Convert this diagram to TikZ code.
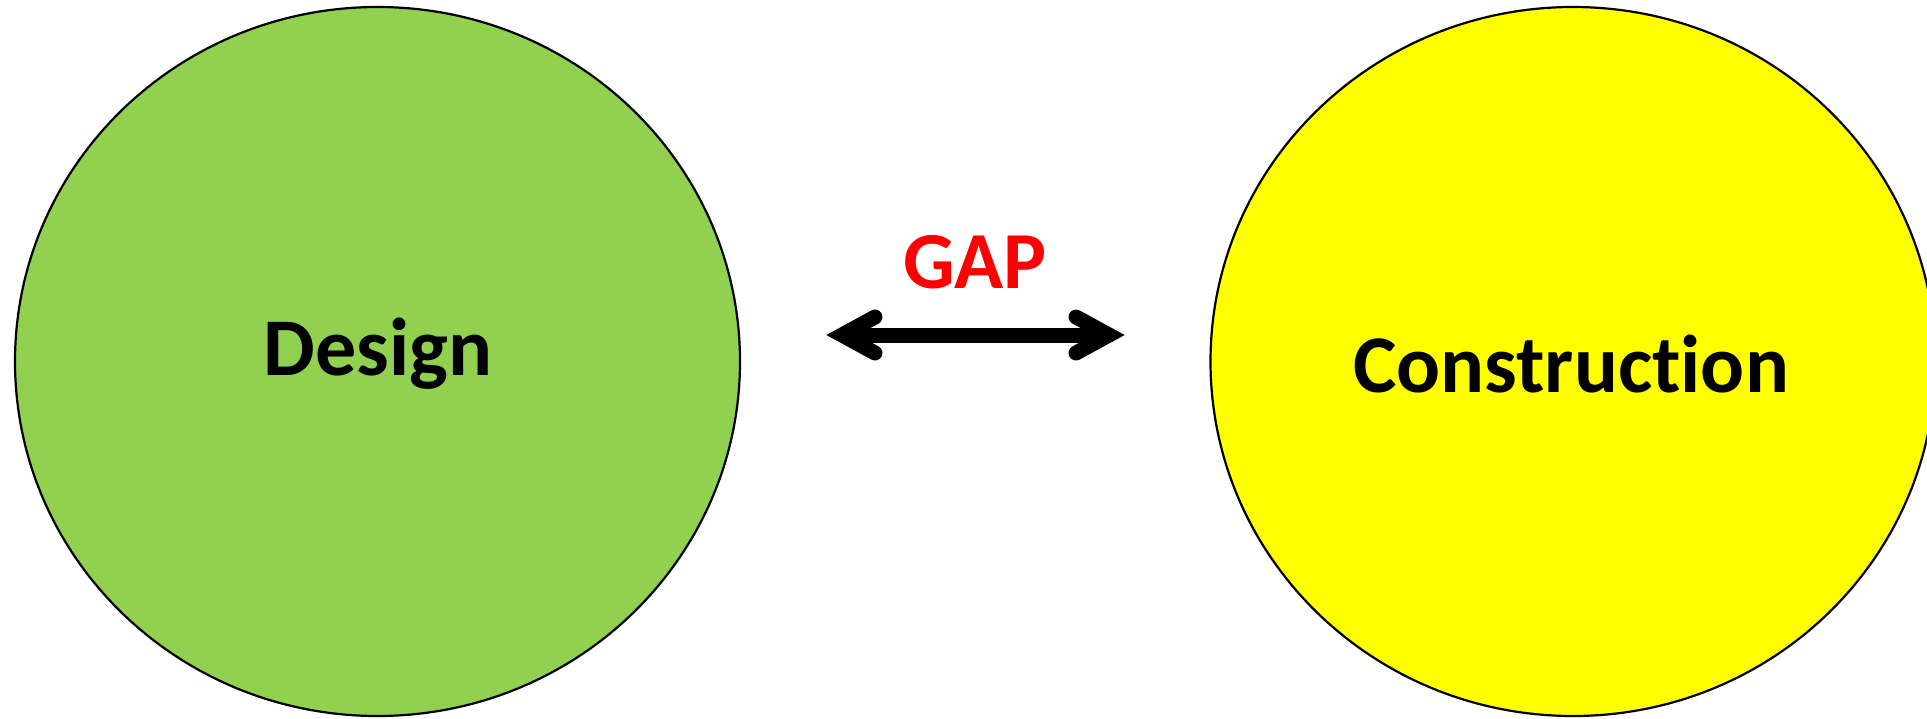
\documentclass[tikz,border=0pt]{standalone}
\usepackage{fontspec}
\setmainfont{Carlito}[Ligatures={NoCommon}]
\usetikzlibrary{shapes.geometric}
\definecolor{dgreen}{HTML}{92D050}
\definecolor{cyellow}{HTML}{FFFF00}
\definecolor{gapred}{HTML}{FF0000}
\tikzset{
  blob/.style={ellipse, draw=black, line width=2.2pt, minimum width=725pt, minimum height=709pt, inner sep=0pt},
  bigtext/.style={font=\fontsize{82}{98}\selectfont\bfseries, anchor=base, inner sep=0pt},
  gapline/.style={line width=15pt, black},
  gaphead/.style={line width=15pt, black, line cap=round, line join=miter, miter limit=10}
}
\begin{document}
\begin{tikzpicture}[x=1pt,y=-1pt]
  \useasboundingbox (0,0) rectangle (1927,718);
  \clip (0,0) rectangle (1927,718);
  \node[blob, fill=dgreen] (design) at (377.5,361.5) {};
  \node[blob, fill=cyellow] (constr) at (1573,361.5) {};
  \node[bigtext] (dtext) at (378,375) {Design};
  \node[bigtext] (ctext) at (1571,392) {Construction};
  \node[bigtext, text=gapred, font=\fontsize{81}{97}\selectfont\bfseries] (gap) at (975,288) {GAP};
  \coordinate (gl) at (842,335);
  \coordinate (gr) at (1109,335);
  \draw[gapline] (gl) -- (gr);
  \draw[gaphead] ([shift={(33,-18)}]gl) -- (gl) -- ([shift={(33,18)}]gl);
  \draw[gaphead] ([shift={(-33,-18)}]gr) -- (gr) -- ([shift={(-33,18)}]gr);
\end{tikzpicture}
\end{document}
